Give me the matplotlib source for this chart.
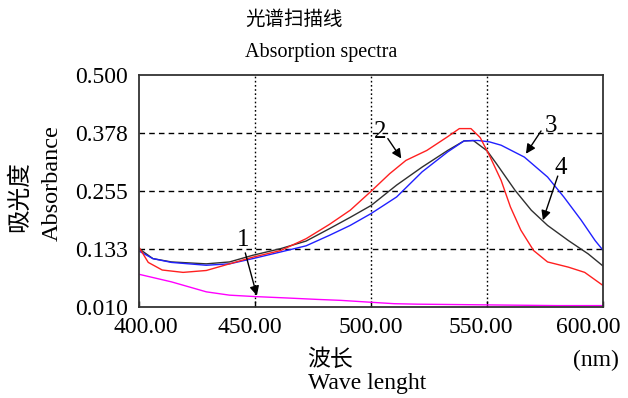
import matplotlib
matplotlib.use("Agg")
import matplotlib.pyplot as plt
from matplotlib.transforms import ScaledTranslation

plt.rcParams['font.family'] = ['Liberation Serif', 'Noto Sans CJK SC']

# ---- data ----
x1 = [400, 414, 429, 439, 450, 464, 477, 487, 500, 510, 520, 540, 560, 580, 600]
y1 = [0.080, 0.064, 0.043, 0.036, 0.033, 0.030, 0.027, 0.025, 0.021, 0.018, 0.017,
      0.016, 0.015, 0.014, 0.014]

x2 = [400, 404, 410, 419, 429, 439, 449, 461, 472, 482, 491, 500, 508, 515, 524, 533,
      538, 543, 547, 551, 556, 560, 564.5, 570, 576, 585, 592, 600]
y2 = [0.137, 0.105, 0.089, 0.084, 0.088, 0.102, 0.116, 0.130, 0.155, 0.185, 0.215,
      0.255, 0.292, 0.320, 0.341, 0.370, 0.387, 0.387, 0.368, 0.330, 0.278, 0.222,
      0.173, 0.130, 0.106, 0.095, 0.084, 0.056]

x3 = [400, 406, 414, 429, 439, 449, 461, 472, 482, 491, 500, 511, 522, 533, 540, 546,
      551, 556, 566, 576, 583, 590.5, 596.5, 600]
y3 = [0.129, 0.113, 0.105, 0.099, 0.102, 0.113, 0.127, 0.140, 0.162, 0.183, 0.208,
      0.243, 0.296, 0.338, 0.361, 0.362, 0.359, 0.352, 0.327, 0.285, 0.243, 0.194,
      0.151, 0.130]

x4 = [400, 406, 414, 429, 439, 449, 461, 472, 482, 491, 500, 511, 522, 533, 540, 544,
      550, 554, 562, 569, 576, 585, 593.5, 600]
y4 = [0.134, 0.113, 0.106, 0.102, 0.106, 0.120, 0.134, 0.150, 0.176, 0.200, 0.225,
      0.268, 0.306, 0.341, 0.361, 0.362, 0.340, 0.313, 0.257, 0.215, 0.183, 0.151,
      0.123, 0.097]

xticks = [400, 450, 500, 550, 600]
xtick_labels = ["400.00", "450.00", "500.00", "550.00", "600.00"]
yticks = [0.010, 0.133, 0.255, 0.378, 0.500]
ytick_labels = ["0.010", "0.133", "0.255", "0.378", "0.500"]

# ---- figure ----
fig = plt.figure(figsize=(6.28, 3.98), dpi=100)
ax = fig.add_axes([0.2213, 0.2274, 0.7393, 0.5842])

ax.plot(x1, y1, color='#ff00ff', lw=1.0)
ax.plot(x4, y4, color='#303030', lw=1.0)
ax.plot(x3, y3, color='#2020ff', lw=1.0)
ax.plot(x2, y2, color='#ff2020', lw=1.0)

ax.set_xlim(400, 600)
ax.set_ylim(0.010, 0.500)

for yv in yticks[1:-1]:
    ax.axhline(yv, color='black', lw=1.0, ls=(0, (4, 3)), zorder=0.5)
for xv in xticks[1:-1]:
    ax.axvline(xv, color='black', lw=1.0, ls=(0, (1.2, 1.8)), zorder=0.5)

ax.set_xticks(xticks)
ax.set_xticklabels(xtick_labels, fontsize=17)
ax.set_yticks(yticks)
ax.set_yticklabels(ytick_labels, fontsize=17)
ax.tick_params(axis='x', direction='in', length=4, pad=7, width=1)
ax.tick_params(axis='y', length=0, pad=8)

# small horizontal shifts of tick labels as in the reference (in pixels)
shifts_px = [7, -5, 0, -6, -15]
for lbl, s in zip(ax.get_xticklabels(), shifts_px):
    lbl.set_transform(lbl.get_transform() + ScaledTranslation(s / 100, 0, fig.dpi_scale_trans))

for sp in ax.spines.values():
    sp.set_color('#333333')
    sp.set_linewidth(1.3)

# annotations
arrow = dict(arrowstyle='-|>', color='black', lw=1.0, mutation_scale=14,
             shrinkA=0, shrinkB=0)
ax.text(445, 0.152, "1", fontsize=18, ha='center', va='center')
ax.annotate('', xy=(450.8, 0.035), xytext=(445.8, 0.125), arrowprops=arrow)
ax.text(504.0, 0.380, "2", fontsize=18, ha='center', va='center')
ax.annotate('', xy=(513, 0.324), xytext=(507.2, 0.366), arrowprops=arrow)
ax.text(577.5, 0.393, "3", fontsize=18, ha='center', va='center')
ax.annotate('', xy=(566.7, 0.334), xytext=(573.2, 0.382), arrowprops=arrow)
ax.text(581.8, 0.305, "4", fontsize=18, ha='center', va='center')
ax.annotate('', xy=(574, 0.194), xytext=(580.4, 0.287), arrowprops=arrow)

# titles and labels
fig.text(245/628, 1-20/398, "光谱扫描线", fontsize=14, ha='left', va='center')
fig.text(245/628, 1-52/398, "Absorption spectra", fontsize=14.5, ha='left', va='center')
fig.text(20/628, 1-197/398, "吸光度", fontsize=17, rotation=90, ha='center', va='center')
fig.text(52/628, 1-183/398, "Absorbance", fontsize=17.5, rotation=90, ha='center', va='center')
fig.text(330/628, 1-360/398, "波长", fontsize=16.5, ha='center', va='center')
fig.text(367/628, 1-383/398, "Wave lenght", fontsize=17, ha='center', va='center')
fig.text(596/628, 1-360/398, "(nm)", fontsize=17, ha='center', va='center')

fig.savefig("out.png", dpi=100)
